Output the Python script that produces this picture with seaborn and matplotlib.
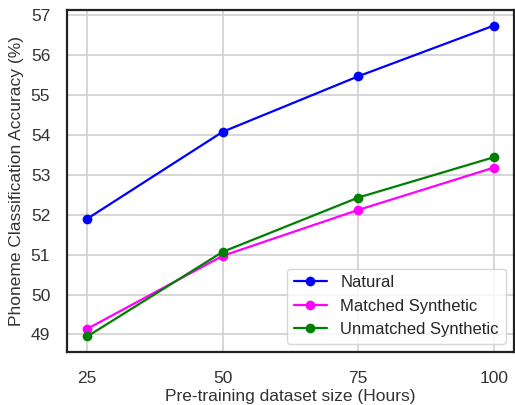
import matplotlib
matplotlib.use("Agg")
import matplotlib.pyplot as plt
import seaborn as sns
import pandas as pd

hours = [25, 50, 75, 100]
natural = [51.90, 54.08, 55.47, 56.74]
matched = [49.14, 50.97, 52.12, 53.18]
unmatched = [48.95, 51.07, 52.43, 53.44]
series_names = ["Natural", "Matched Synthetic", "Unmatched Synthetic"]
colors = ["blue", "magenta", "green"]

sns.set_theme(style="whitegrid")
plt.rcParams["font.family"] = ["Liberation Sans", "DejaVu Sans"]

df = pd.DataFrame({
    "hours": hours * 3,
    "acc": natural + matched + unmatched,
    "series": sum([[n] * len(hours) for n in series_names], []),
})

fig = plt.figure(figsize=(5.15, 4.05), dpi=100)
ax = fig.add_axes([0.130, 0.131, 0.868, 0.844])
sns.lineplot(data=df, x="hours", y="acc", hue="series", palette=colors,
             marker="o", markersize=7, markeredgewidth=0, linewidth=1.6, ax=ax)

ax.set_xticks(hours)
ax.set_xlabel("Pre-training dataset size (Hours)", fontsize=12.5, color="#333333", labelpad=2)
ax.set_ylabel("Phoneme Classification Accuracy (%)", fontsize=12.5, color="#333333", labelpad=5)
ax.tick_params(axis="both", labelsize=12.5, colors="#333333")
ax.tick_params(axis="x", pad=8)
ax.tick_params(axis="y", pad=6)
for s in ax.spines.values():
    s.set_color("#222222")
    s.set_linewidth(1.6)
ax.grid(color="#d0d0d0", linewidth=1.2)
leg = ax.legend(loc="lower right", fontsize=12, frameon=True)
leg.get_frame().set_edgecolor("#cccccc")
fig.savefig("out.png", dpi=100)
